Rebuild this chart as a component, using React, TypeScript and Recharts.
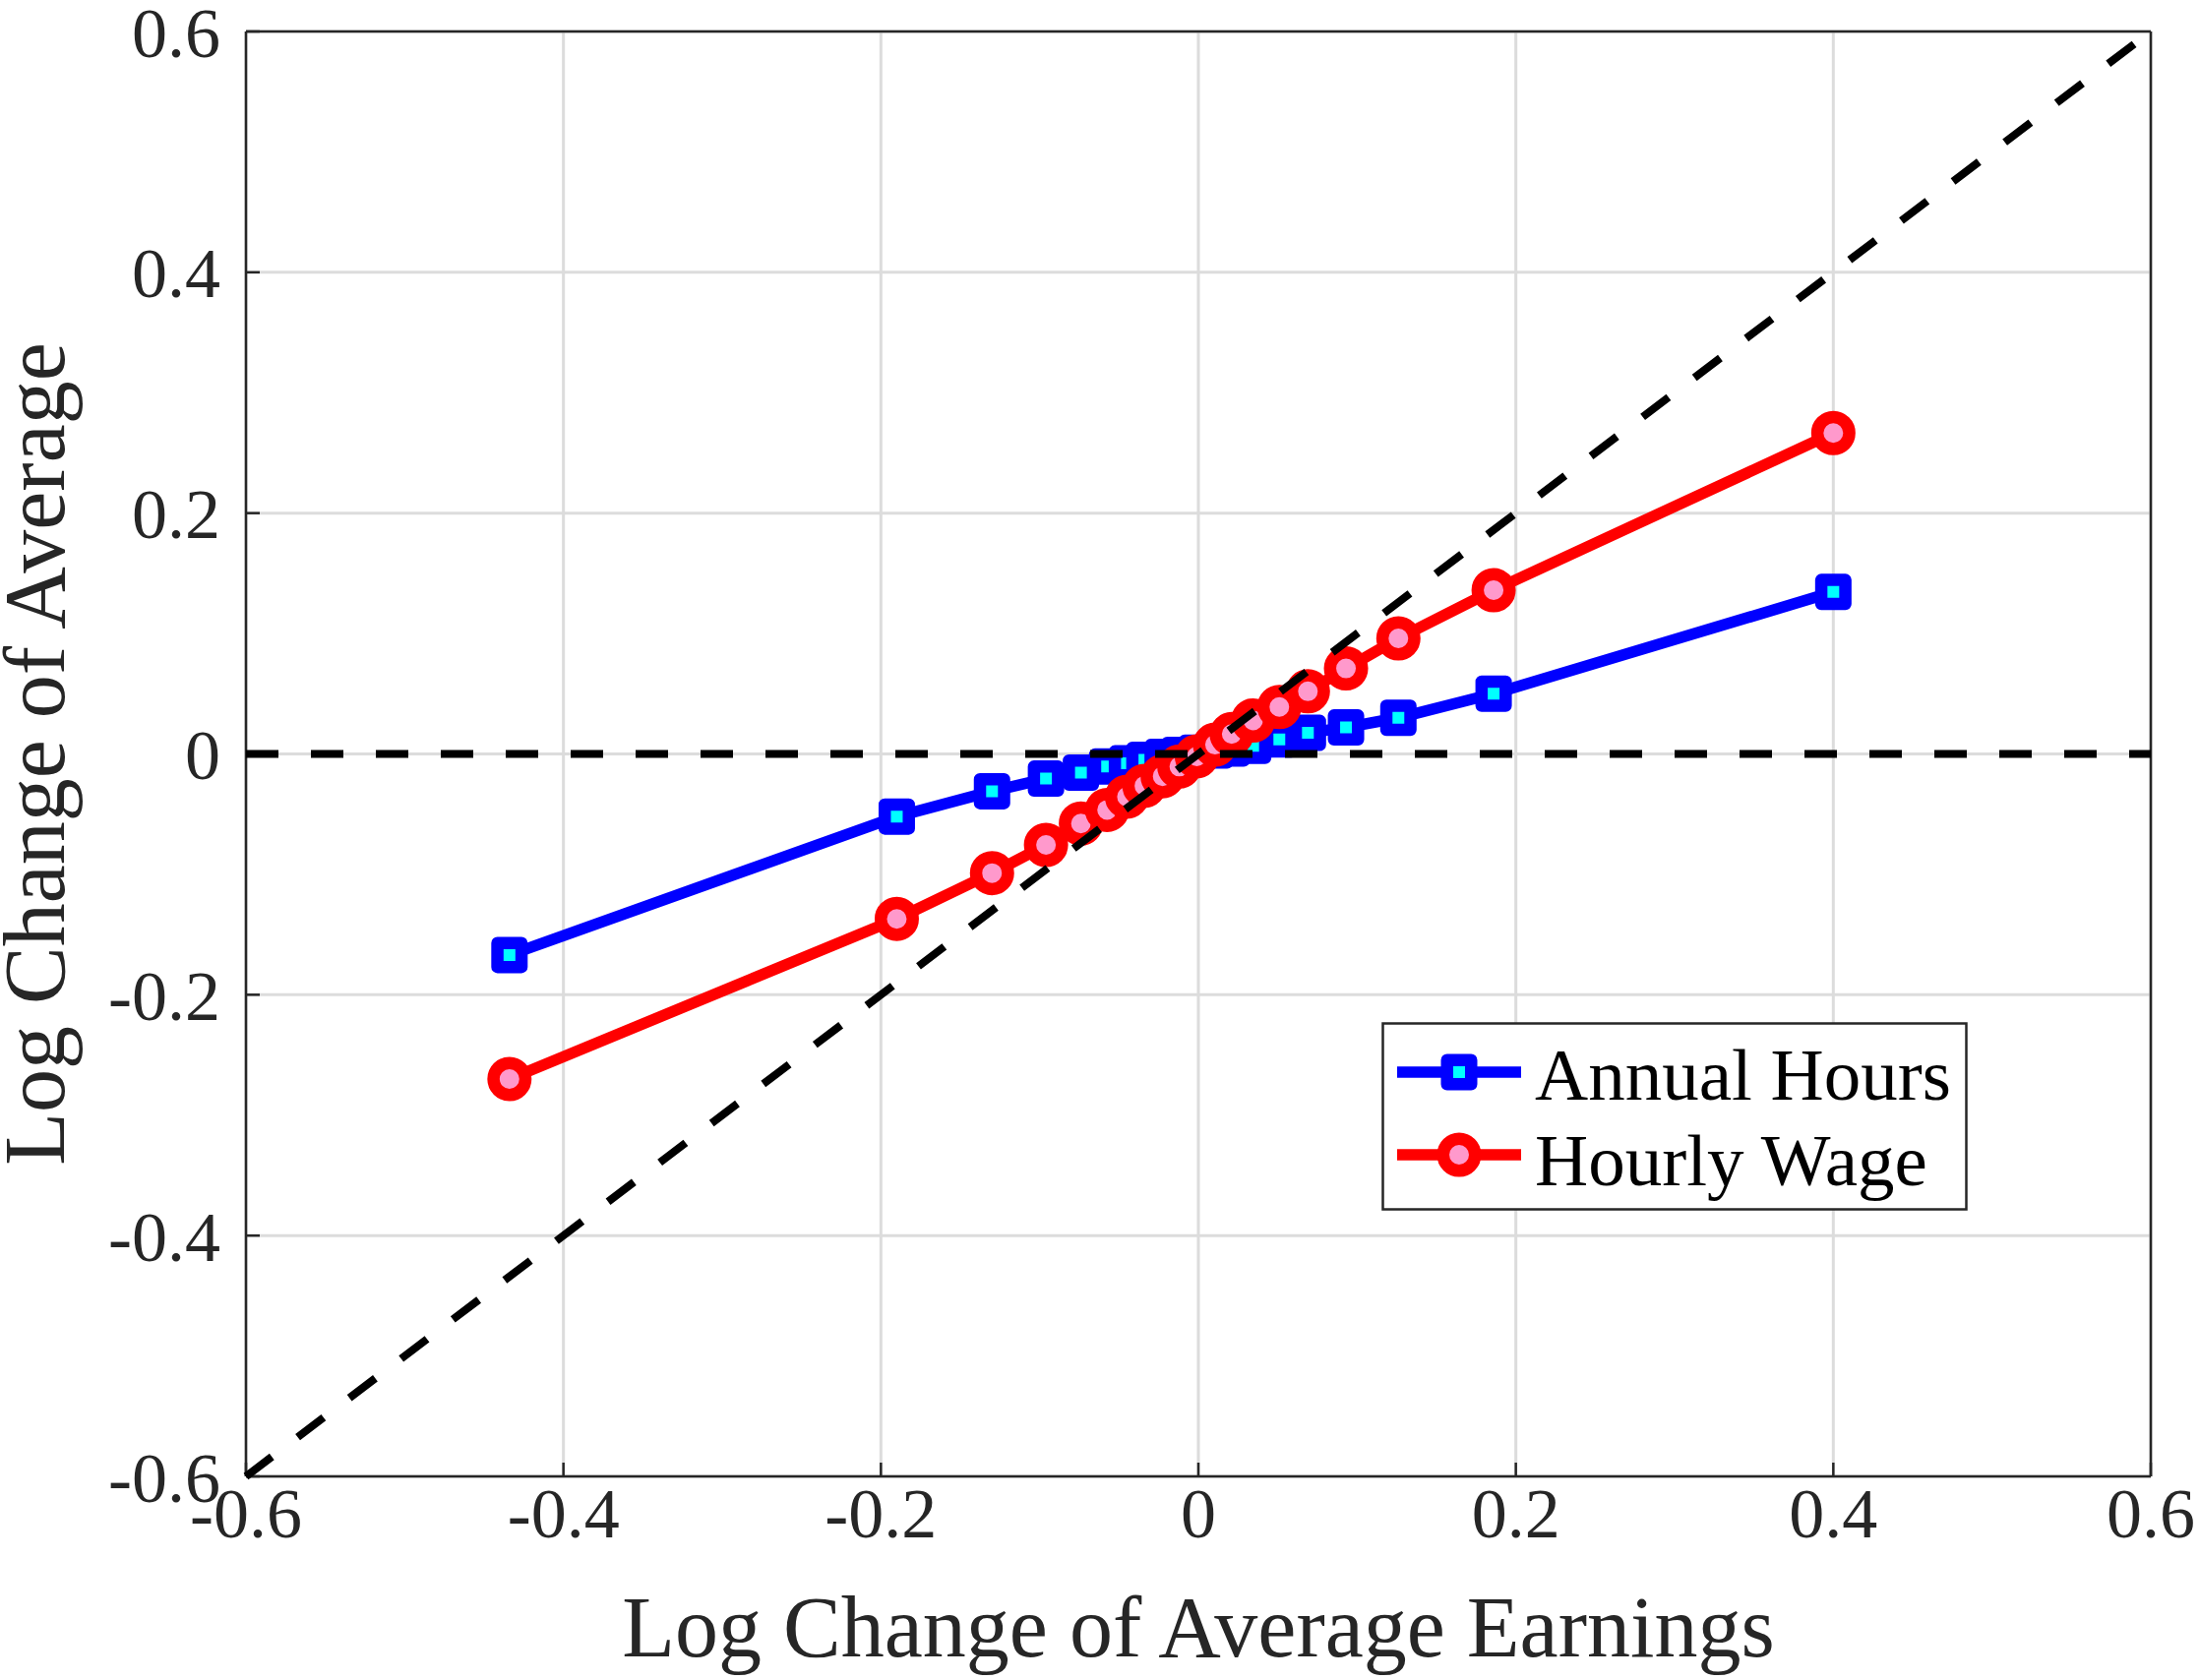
import React from "react";
import {
  ScatterChart,
  Scatter,
  XAxis,
  YAxis,
  CartesianGrid,
  ReferenceLine,
  Legend,
} from "recharts";

// log change of average earnings (x) per group
const earningsChange = [
  -0.434, -0.19, -0.13, -0.096, -0.074, -0.0575, -0.045, -0.034, -0.0225,
  -0.012, -0.001, 0.0105, 0.021, 0.0345, 0.051, 0.069, 0.093, 0.126, 0.186,
  0.4,
];
const hoursChange = [
  -0.167, -0.052, -0.031, -0.0205, -0.0155, -0.0105, -0.0078, -0.0048,
  -0.0025, -0.0008, 0.001, 0.0028, 0.0045, 0.0067, 0.012, 0.0175, 0.022, 0.03,
  0.05, 0.1345,
];
const wageChange = [
  -0.27, -0.137, -0.099, -0.0756, -0.0578, -0.0465, -0.0355, -0.0265, -0.0185,
  -0.0105, -0.002, 0.0077, 0.0165, 0.0278, 0.039, 0.052, 0.071, 0.096, 0.136,
  0.2665,
];

const axisTicks = [-0.6, -0.4, -0.2, 0, 0.2, 0.4, 0.6];
const tickLabels = ["-0.6", "-0.4", "-0.2", "0", "0.2", "0.4", "0.6"];
const seriesNames = ["Annual Hours", "Hourly Wage"];

const FONT = '"Liberation Serif", "DejaVu Serif", serif';
const AXIS = "#262626";
const BLUE = "#0000ff";
const CYAN = "#00ffff";
const RED = "#ff0000";
const PINK = "#ff99cc";
const LINE_W = 11.5;

const hoursData = earningsChange.map((x, i) => ({ x, y: hoursChange[i] }));
const wageData = earningsChange.map((x, i) => ({ x, y: wageChange[i] }));

const fmt = (v: number) => tickLabels[axisTicks.indexOf(v)] ?? String(v);

const SquareMark = (props: any) => {
  const { cx, cy } = props;
  if (cx == null || cy == null) return null;
  return (
    <rect
      x={cx - 12.25}
      y={cy - 12.25}
      width={24.5}
      height={24.5}
      fill={CYAN}
      stroke={BLUE}
      strokeWidth={12.5}
      strokeLinejoin="round"
    />
  );
};

const CircleMark = (props: any) => {
  const { cx, cy } = props;
  if (cx == null || cy == null) return null;
  return <circle cx={cx} cy={cy} r={16.25} fill={PINK} stroke={RED} strokeWidth={12.5} />;
};

function LegendBox() {
  return (
    <svg width={596} height={192} style={{ display: "block" }}>
      <rect x={1.5} y={1.5} width={593} height={189} fill="#fff" stroke={AXIS} strokeWidth={2.5} />
      <line x1={16} x2={142} y1={51} y2={51} stroke={BLUE} strokeWidth={LINE_W} />
      <SquareMark cx={79} cy={51} />
      <text x={156} y={79} fontFamily={FONT} fontSize={75} fill="#000">
        {seriesNames[0]}
      </text>
      <line x1={16} x2={142} y1={135} y2={135} stroke={RED} strokeWidth={LINE_W} />
      <CircleMark cx={79} cy={135} />
      <text x={156} y={166} fontFamily={FONT} fontSize={75} fill="#000">
        {seriesNames[1]}
      </text>
    </svg>
  );
}

export default function App() {
  const tickStyle = { fill: AXIS, fontSize: 72, fontFamily: FONT };
  const dashProps: any = {
    stroke: "#000",
    strokeWidth: 8,
    strokeDasharray: "33 33",
    zIndex: 700,
  };
  return (
    <div style={{ position: "absolute", left: 0, top: 0, background: "#fff" }}>
      <ScatterChart
        width={2235}
        height={1708}
        margin={{ top: 0, right: 0, bottom: 0, left: 0 }}
      >
        <CartesianGrid stroke="#dcdcdc" strokeWidth={3} />
        <XAxis
          type="number"
          dataKey="x"
          domain={[-0.6, 0.6]}
          ticks={axisTicks}
          interval={0}
          tickFormatter={fmt}
          height={207}
          tick={tickStyle}
          tickSize={-14}
          tickMargin={25}
          axisLine={{ stroke: AXIS, strokeWidth: 2.5 }}
          tickLine={{ stroke: AXIS, strokeWidth: 2.5 }}
          label={{
            content: ({ viewBox }: any) => (
              <text
                x={viewBox.x + viewBox.width / 2}
                y={viewBox.y + 183}
                textAnchor="middle"
                fontFamily={FONT}
                fontSize={88}
                fill={AXIS}
              >
                Log Change of Average Earnings
              </text>
            ),
          }}
        />
        <XAxis
          xAxisId="top"
          orientation="top"
          type="number"
          domain={[-0.6, 0.6]}
          ticks={axisTicks}
          interval={0}
          height={32}
          tick={false}
          tickSize={-14}
          axisLine={{ stroke: AXIS, strokeWidth: 2.5 }}
          tickLine={{ stroke: AXIS, strokeWidth: 2.5 }}
        />
        <YAxis
          type="number"
          dataKey="y"
          domain={[-0.6, 0.6]}
          ticks={axisTicks}
          interval={0}
          tickFormatter={fmt}
          width={250}
          tick={tickStyle}
          tickSize={-14}
          tickMargin={40}
          axisLine={{ stroke: AXIS, strokeWidth: 2.5 }}
          tickLine={{ stroke: AXIS, strokeWidth: 2.5 }}
          label={{
            content: ({ viewBox }: any) => {
              const cy = viewBox.y + viewBox.height / 2;
              return (
                <text
                  x={65}
                  y={cy}
                  transform={`rotate(-90 65 ${cy})`}
                  textAnchor="middle"
                  fontFamily={FONT}
                  fontSize={88}
                  fill={AXIS}
                >
                  Log Change of Average
                </text>
              );
            },
          }}
        />
        <YAxis
          yAxisId="right"
          orientation="right"
          type="number"
          domain={[-0.6, 0.6]}
          ticks={axisTicks}
          interval={0}
          width={49}
          tick={false}
          tickSize={-14}
          axisLine={{ stroke: AXIS, strokeWidth: 2.5 }}
          tickLine={{ stroke: AXIS, strokeWidth: 2.5 }}
        />
        <Scatter
          name={seriesNames[0]}
          data={hoursData}
          line={{ stroke: BLUE, strokeWidth: LINE_W }}
          shape={SquareMark}
          isAnimationActive={false}
        />
        <Scatter
          name={seriesNames[1]}
          data={wageData}
          line={{ stroke: RED, strokeWidth: LINE_W }}
          shape={CircleMark}
          isAnimationActive={false}
        />
        <ReferenceLine y={0} {...dashProps} />
        <ReferenceLine
          segment={[
            { x: axisTicks[0], y: axisTicks[0] },
            { x: axisTicks[axisTicks.length - 1], y: axisTicks[axisTicks.length - 1] },
          ]}
          {...dashProps}
        />
        <Legend
          layout="vertical"
          align="center"
          verticalAlign="middle"
          wrapperStyle={{ left: 1404, top: 1039, width: 596, height: 192 }}
          content={() => <LegendBox />}
        />
      </ScatterChart>
    </div>
  );
}
